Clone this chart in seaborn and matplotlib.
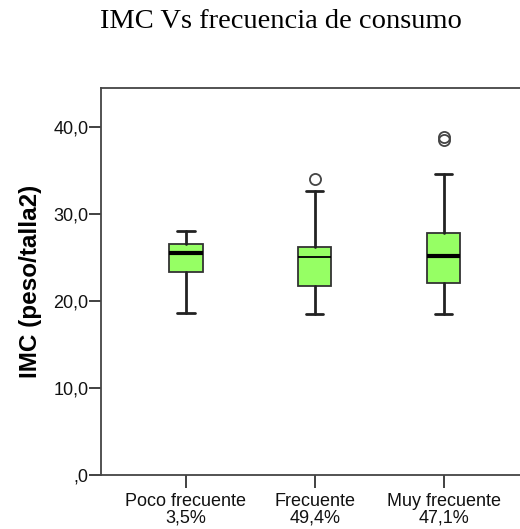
import matplotlib
matplotlib.use("Agg")
import matplotlib.pyplot as plt
import seaborn as sns
from matplotlib.ticker import FuncFormatter

# summary values (IMC by frequency group)
grupos = ["Poco frecuente", "Frecuente", "Muy frecuente"]
porcentajes = ["3,5%", "49,4%", "47,1%"]
bigote_inf = [18.6, 18.5, 18.5]
q1 = [23.3, 21.7, 22.1]
mediana = [25.5, 25.0, 25.2]
q3 = [26.6, 26.2, 27.8]
bigote_sup = [28.0, 32.6, 34.6]
atipicos = [[], [34.0], [38.5, 38.9]]

sns.set_style("ticks")
plt.rcParams["font.family"] = ["Liberation Sans", "DejaVu Sans"]

stats = []
for i, g in enumerate(grupos):
    stats.append(dict(label=g, whislo=bigote_inf[i], q1=q1[i], med=mediana[i],
                      q3=q3[i], whishi=bigote_sup[i], fliers=atipicos[i]))

fig = plt.figure(figsize=(5.2, 5.29), dpi=100)
ax = fig.add_axes([0.194, 0.102, 0.81, 0.732])

res = ax.bxp(stats, positions=range(len(grupos)), widths=0.26, patch_artist=True,
             boxprops=dict(facecolor="#96FF64", edgecolor="#333333", linewidth=1.3),
             whiskerprops=dict(color="#222222", linewidth=2),
             capprops=dict(color="#222222", linewidth=2),
             medianprops=dict(color="black", linewidth=3),
             flierprops=dict(marker="o", markerfacecolor="none", markeredgecolor="#444444",
                             markersize=8, markeredgewidth=1.3))
for c in res["caps"]:
    x = c.get_xdata()
    m = (x[0] + x[1]) / 2
    c.set_xdata([m - 0.068, m + 0.068])
res["medians"][1].set_linewidth(1.3)

ax.set_ylim(0, 44.5)
ax.set_xlim(-0.66, 2.61)
ax.set_yticks([0, 10, 20, 30, 40])
ax.yaxis.set_major_formatter(FuncFormatter(lambda v, p: ",0" if v == 0 else f"{v:.1f}".replace(".", ",")))
ax.set_xticks(range(len(grupos)))
ax.set_xticklabels([f"{g}\n{p}" for g, p in zip(grupos, porcentajes)], linespacing=0.95)
ax.tick_params(axis="y", length=9, width=1.3, color="#333333", labelsize=13, pad=0, labelcolor="#111111")
ax.tick_params(axis="x", length=9, width=1.3, color="#333333", labelsize=13, pad=4, labelcolor="#111111")
for s in ["left", "bottom", "top"]:
    ax.spines[s].set_color("#444444")
    ax.spines[s].set_linewidth(1.3)
ax.spines["right"].set_visible(False)

ax.set_ylabel("IMC (peso/talla2)", fontsize=17.5, fontweight="bold", labelpad=8, color="black")
fig.text(0.541, 0.947, "IMC Vs frecuencia de consumo", ha="center", va="baseline",
         fontsize=20.5, color="black", family=["Liberation Serif", "DejaVu Serif"])

fig.savefig("out.png", dpi=100)
